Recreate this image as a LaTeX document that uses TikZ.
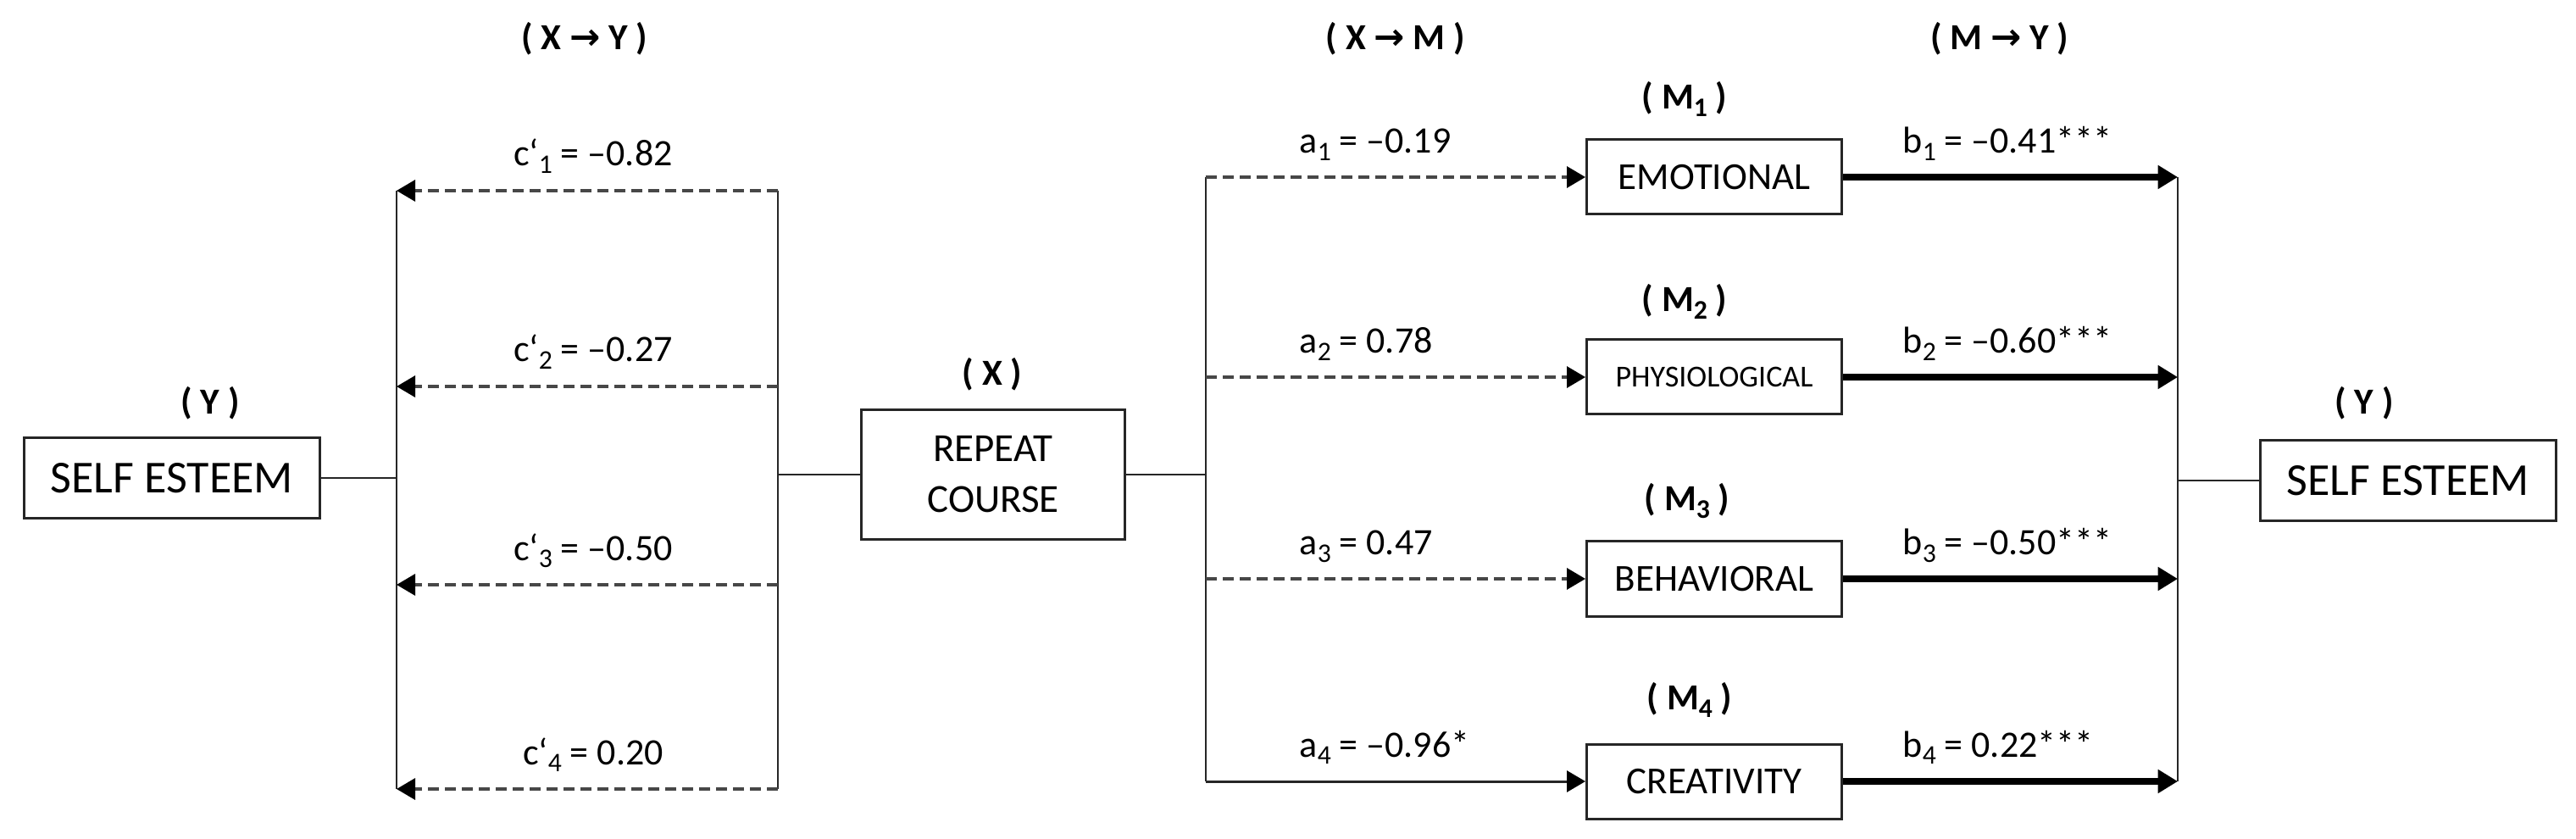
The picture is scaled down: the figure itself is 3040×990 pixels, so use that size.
\documentclass[tikz,border=0pt]{standalone}
\usepackage{fontspec}
\setmainfont{Carlito}
\newfontfamily\symf{DejaVu Sans}
\usetikzlibrary{arrows.meta}
\newcommand\subx[1]{\raisebox{-2.6pt}{\fontsize{9.5pt}{9.5pt}\selectfont #1}}
\newcommand\arr{{\symf\bfseries →}}
\begin{document}
\begin{tikzpicture}[x=0.3pt,y=-0.3pt,
  box/.style={draw=black!85,line width=0.9pt,inner sep=0pt,fill=white},
  sebox/.style={box,minimum width={349*0.3pt},minimum height={95*0.3pt},font=\fontsize{16.2pt}{19pt}\selectfont},
  medbox/.style={box,minimum width={301*0.3pt},minimum height={88*0.3pt},font=\fontsize{13.5pt}{16pt}\selectfont},
  xbox/.style={box,minimum width={311*0.3pt},minimum height={153*0.3pt},align=center,font=\fontsize{14.1pt}{18pt}\selectfont},
  ttl/.style={font=\fontsize{13pt}{15pt}\selectfont\bfseries,inner sep=0pt},
  lab/.style={font=\fontsize{13.2pt}{15pt}\selectfont,inner sep=0pt},
  thinln/.style={draw=black!85,line width=0.8pt},
  dasharr/.style={draw=black!72,line width=1pt,dash pattern=on 3.9pt off 2.1pt,-{Triangle[length=6.6pt,width=7.5pt,color=black]}},
  solarr/.style={draw=black!85,line width=0.9pt,-{Triangle[length=6.6pt,width=7.5pt,color=black]}},
  bigarr/.style={draw=black,line width=2.4pt,-{Triangle[length=7pt,width=8pt]}},
]
\useasboundingbox (0,0) rectangle (3040,990);

% titles
\node[ttl] (t1) at (690,46) {( X \arr{} Y )};
\node[ttl] (t2) at (1647,46) {( X \arr{} M )};
\node[ttl] (t3) at (2360,46) {( M \arr{} Y )};

% main nodes
\node[sebox] (yl) at (203,564) {SELF ESTEEM};
\node[sebox] (yr) at (2842,567) {SELF ESTEEM};
\node[xbox] (x) at (1172,560) {REPEAT\\COURSE};
\node[medbox] (m1) at (2023,209) {EMOTIONAL};
\node[medbox,font=\fontsize{10.8pt}{13pt}\selectfont] (m2) at (2023,445) {PHYSIOLOGICAL};
\node[medbox] (m3) at (2023,683) {BEHAVIORAL};
\node[medbox] (m4) at (2023,922) {CREATIVITY};

% node labels
\node[ttl] (ly) at (248,476) {( Y )};
\node[ttl] (ry) at (2790,476) {( Y )};
\node[ttl] (lx) at (1171,442) {( X )};
\node[ttl] (lm1) at (1988,117) {( M\subx{1} )};
\node[ttl] (lm2) at (1988,356) {( M\subx{2} )};
\node[ttl] (lm3) at (1991,591) {( M\subx{3} )};
\node[ttl] (lm4) at (1994,826) {( M\subx{4} )};

% vertical bus coordinates
\coordinate (vl1) at (468,225);
\coordinate (vl2) at (468,456);
\coordinate (vl3) at (468,690);
\coordinate (vl4) at (468,931);
\coordinate (vr1) at (918,225);
\coordinate (vr2) at (918,456);
\coordinate (vr3) at (918,690);
\coordinate (vr4) at (918,931);
\coordinate (va) at (1423,0);
\coordinate (vb) at (2570,0);

% left part (X -> Y)
\draw[thinln] (vl1) -- (vl4);
\draw[thinln] (vr1) -- (vr4);
\draw[thinln] (yl.east) -- (yl.east -| vl1);
\draw[thinln] (x.west -| vr1) -- (x.west);
\draw[dasharr] (vr1) -- (vl1);
\draw[dasharr] (vr2) -- (vl2);
\draw[dasharr] (vr3) -- (vl3);
\draw[dasharr] (vr4) -- (vl4);
\node[lab,anchor=base] (c1) at (700,196) {c‘\subx{1} = –0.82};
\node[lab,anchor=base] (c2) at (700,427) {c‘\subx{2} = –0.27};
\node[lab,anchor=base] (c3) at (700,661) {c‘\subx{3} = –0.50};
\node[lab,anchor=base] (c4) at (700,902) {c‘\subx{4} = 0.20};

% X -> M
\draw[thinln] (x.east) -- (x.east -| va);
\draw[thinln] (m1.west -| va) -- (m4.west -| va);
\draw[dasharr] (m1.west -| va) -- (m1.west);
\draw[dasharr] (m2.west -| va) -- (m2.west);
\draw[dasharr] (m3.west -| va) -- (m3.west);
\draw[solarr] (m4.west -| va) -- (m4.west);
\node[lab,anchor=base west] (a1) at (1533,181) {a\subx{1} = –0.19};
\node[lab,anchor=base west] (a2) at (1533,417) {a\subx{2} = 0.78};
\node[lab,anchor=base west] (a3) at (1533,655) {a\subx{3} = 0.47};
\node[lab,anchor=base west] (a4) at (1533,893) {a\subx{4} = –0.96*};

% M -> Y
\draw[thinln] (m1.east -| vb) -- (m4.east -| vb);
\draw[bigarr] (m1.east) -- (m1.east -| vb);
\draw[bigarr] (m2.east) -- (m2.east -| vb);
\draw[bigarr] (m3.east) -- (m3.east -| vb);
\draw[bigarr] (m4.east) -- (m4.east -| vb);
\draw[thinln] (yr.west -| vb) -- (yr.west);
\node[lab,anchor=base west] (b1) at (2245,181) {b\subx{1} = –0.41***};
\node[lab,anchor=base west] (b2) at (2245,417) {b\subx{2} = –0.60***};
\node[lab,anchor=base west] (b3) at (2245,655) {b\subx{3} = –0.50***};
\node[lab,anchor=base west] (b4) at (2245,893) {b\subx{4} = 0.22***};
\end{tikzpicture}
\end{document}
